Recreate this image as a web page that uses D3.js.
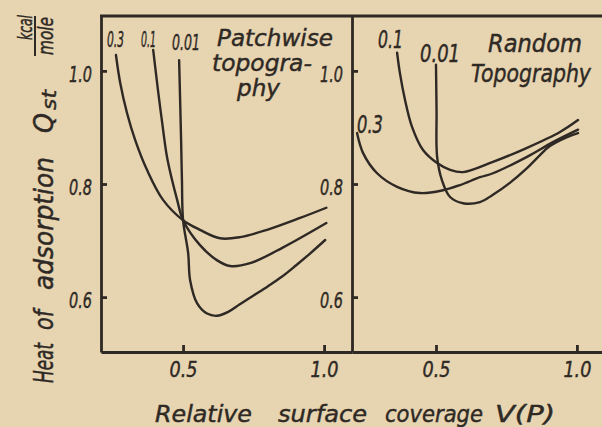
<!DOCTYPE html>
<html>
<head>
<meta charset="utf-8">
<script src="https://cdn.jsdelivr.net/npm/d3@7"></script>
<style>
  body { margin: 0; background: #e7d4b1; }
  svg { display: block; }
  text { font-family: "DejaVu Sans", sans-serif; font-style: italic; fill: #2e2924; stroke: #2e2924; stroke-width: 0.45px; }
</style>
</head>
<body>
<script>
// values: [coverage V(P), Qst kcal/mole]
const patchwise03 = [[0.262,1.028],[0.277,0.979],[0.301,0.926],[0.330,0.878],[0.372,0.825],[0.429,0.772],[0.5,0.736],[0.560,0.719],[0.631,0.704],[0.702,0.706],[0.798,0.719],[0.915,0.740],[1.008,0.758]];
const patchwise01 = [[0.394,1.037],[0.411,0.966],[0.426,0.908],[0.443,0.848],[0.461,0.807],[0.479,0.772],[0.5,0.736],[0.560,0.692],[0.621,0.665],[0.667,0.655],[0.738,0.660],[0.855,0.688],[1.008,0.731]];
const patchwise001 = [[0.486,1.019],[0.493,0.878],[0.496,0.807],[0.5,0.736],[0.518,0.678],[0.525,0.630],[0.550,0.589],[0.585,0.571],[0.620,0.567],[0.660,0.574],[0.700,0.587],[0.750,0.603],[0.800,0.619],[0.850,0.636],[0.900,0.656],[0.950,0.677],[1.004,0.701]];

const random01 = [[0.362,1.032],[0.372,0.996],[0.390,0.949],[0.415,0.901],[0.454,0.860],[0.504,0.837],[0.550,0.825],[0.596,0.821],[0.702,0.839],[0.823,0.864],[0.940,0.892],[1.004,0.913]];
const random001 = [[0.5,1.011],[0.502,0.930],[0.504,0.848],[0.521,0.807],[0.550,0.777],[0.596,0.766],[0.656,0.768],[0.702,0.781],[0.762,0.802],[0.823,0.828],[0.869,0.851],[0.904,0.867],[0.965,0.883],[1.004,0.890]];
const random03 = [[0.220,0.890],[0.241,0.855],[0.291,0.819],[0.362,0.795],[0.443,0.784],[0.525,0.789],[0.585,0.798],[0.656,0.812],[0.702,0.819],[0.823,0.848],[0.915,0.874],[1.004,0.896]];

const xTicks = [0.5, 1.0];
const yTicks = [0.6, 0.8, 1.0];

const width = 602, height = 427;
const ink = '#2e2924';

const svg = d3.select('body').append('svg')
    .attr('width', width)
    .attr('height', height);

svg.append('rect').attr('width', width).attr('height', height).attr('fill', '#e7d4b1');

const y = d3.scaleLinear().domain([0.503, 1.097]).range([352, 16]);
const xLeft = d3.scaleLinear().domain([0.209, 1.099]).range([101, 352]);
const xRight = d3.scaleLinear().domain([0.202, 1.089]).range([352, 602]);

function panel(x, series, x0) {
    const g = svg.append('g');

    const yAxis = g.append('g')
        .attr('transform', `translate(${x0},0)`)
        .call(d3.axisLeft(y).tickValues(yTicks).tickFormat(d3.format('.1f'))
            .tickSizeInner(-6).tickSizeOuter(0).tickPadding(9));
    yAxis.selectAll('text').attr('font-size', 21).attr('dy', '0.5em')
        .attr('textLength', 23).attr('lengthAdjust', 'spacingAndGlyphs');

    const xAxis = g.append('g')
        .attr('transform', `translate(0,352)`)
        .call(d3.axisBottom(x).tickValues(xTicks).tickFormat(d3.format('.1f'))
            .tickSizeInner(-7).tickSizeOuter(0).tickPadding(10));
    xAxis.selectAll('text').attr('font-size', 21)
        .attr('textLength', 28).attr('lengthAdjust', 'spacingAndGlyphs');

    g.selectAll('.domain, .tick line').attr('stroke', ink).attr('stroke-width', 2.8);
    g.selectAll('.tick text').style('fill', ink);

    const line = d3.line()
        .x(d => x(d[0]))
        .y(d => y(d[1]))
        .curve(d3.curveCatmullRom.alpha(0.5));

    g.selectAll('path.curve')
        .data(series)
        .enter()
        .append('path')
        .attr('class', 'curve')
        .attr('d', line)
        .attr('fill', 'none')
        .attr('stroke', ink)
        .attr('stroke-width', 2.4)
        .attr('stroke-linecap', 'round');
}

panel(xLeft, [patchwise03, patchwise01, patchwise001], 101);
panel(xRight, [random03, random01, random001], 352);

// top border across both panels
svg.append('line')
    .attr('x1', 100).attr('x2', 602).attr('y1', 16).attr('y2', 16)
    .attr('stroke', ink).attr('stroke-width', 2.8);

// in-plot labels: [text, x, baseline, width, size]
const labels = [
    ['0.3', 107, 47, 17, 21], ['0.1', 141, 47, 15, 21], ['0.01', 172, 50, 28, 21],
    ['Patchwise', 217, 46, 116, 23], ['topogra-', 212, 71, 100, 23], ['phy', 237, 96, 43, 23],
    ['0.1', 378, 48, 25, 24], ['0.01', 420, 62, 40, 24], ['0.3', 357, 133, 26, 24],
    ['Random', 488, 52, 94, 24], ['Topography', 471, 82, 120, 24]
];
// squeeze each label horizontally to the width it has in the scan
svg.selectAll('text.lab')
    .data(labels)
    .enter()
    .append('text')
    .attr('class', 'lab')
    .attr('font-size', d => d[4])
    .text(d => d[0])
    .attr('transform', function(d) {
        const k = d[3] / this.getComputedTextLength();
        return `translate(${d[1]},${d[2]}) scale(${k},1)`;
    });

// x axis title, word by word
const xTitle = [['Relative', 155, 97], ['surface', 278, 89], ['coverage', 385, 98], ['V(P)', 495, 60]];
svg.selectAll('text.xt')
    .data(xTitle)
    .enter()
    .append('text')
    .attr('x', d => d[1])
    .attr('y', 422)
    .attr('font-size', 23)
    .attr('textLength', d => d[2])
    .attr('lengthAdjust', 'spacingAndGlyphs')
    .text(d => d[0]);

// y axis title, rotated: [text, bottom y, length]
const yTitle = [['Heat', 383, 40], ['of', 330, 20], ['adsorption', 290, 133], ['Q', 133, 20]];
svg.selectAll('text.yt')
    .data(yTitle)
    .enter()
    .append('text')
    .attr('transform', d => `translate(53,${d[1]}) rotate(-90)`)
    .attr('font-size', 26)
    .attr('textLength', d => d[2])
    .attr('lengthAdjust', 'spacingAndGlyphs')
    .text(d => d[0]);

svg.append('text')
    .attr('transform', 'translate(56,110) rotate(-90)')
    .attr('font-size', 19)
    .attr('textLength', 20)
    .attr('lengthAdjust', 'spacingAndGlyphs')
    .text('st');

// unit fraction kcal / mole
svg.append('text')
    .attr('transform', 'translate(32,40) rotate(-90)')
    .attr('font-size', 20)
    .attr('textLength', 25)
    .attr('lengthAdjust', 'spacingAndGlyphs')
    .text('kcal');
svg.append('line')
    .attr('x1', 35).attr('x2', 35).attr('y1', 56).attr('y2', 16)
    .attr('stroke', ink).attr('stroke-width', 2);
svg.append('text')
    .attr('transform', 'translate(53,55) rotate(-90)')
    .attr('font-size', 22)
    .attr('textLength', 38)
    .attr('lengthAdjust', 'spacingAndGlyphs')
    .text('mole');
</script>
</body>
</html>
